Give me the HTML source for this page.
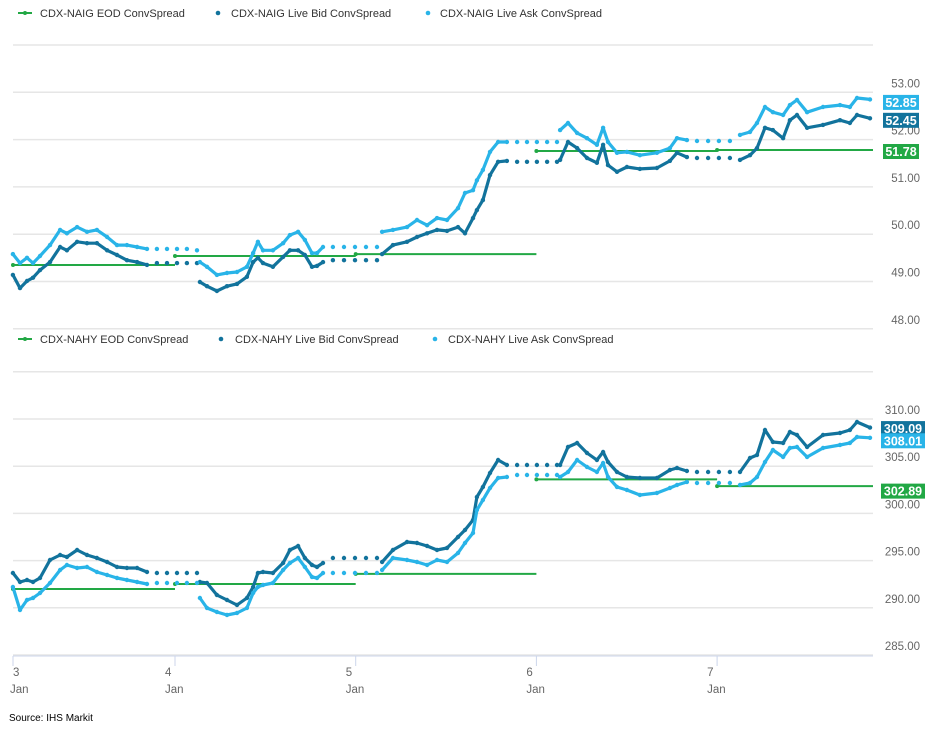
<!DOCTYPE html>
<html><head><meta charset="utf-8"><style>
html,body{margin:0;padding:0;background:#fff;}
svg{display:block;font-family:"Liberation Sans",Arial,sans-serif;}
</style></head><body>
<svg id="chart" width="931" height="730" viewBox="0 0 931 730"></svg>
<script>
// ---- shared time grid (days in January) ----
const times = [3.103,3.142,3.181,3.214,3.253,3.308,3.364,3.402,3.458,3.513,3.568,3.624,3.679,3.734,3.790,3.845,
3.900,3.956,4.011,4.066,4.122,
4.138,4.177,4.232,4.288,4.343,4.398,4.432,4.459,4.487,4.542,4.598,4.636,4.681,4.719,4.758,4.786,4.819,
4.874,4.935,4.996,5.057,5.118,
5.146,5.206,5.284,5.339,5.395,5.450,5.505,5.566,5.605,5.649,5.671,5.704,5.743,5.788,5.837,
5.893,5.948,6.003,6.059,6.114,
6.131,6.175,6.225,6.280,6.335,6.369,6.396,6.446,6.501,6.573,6.667,6.739,6.778,6.833,
6.889,6.950,7.010,7.071,
7.127,7.182,7.221,7.265,7.309,7.365,7.403,7.442,7.498,7.586,7.680,7.735,7.774,7.846];
// session id per point (0 = isolated overnight quote)
const sessions = [1,1,1,1,1,1,1,1,1,1,1,1,1,1,1,1, 0,0,0,0,0,
2,2,2,2,2,2,2,2,2,2,2,2,2,2,2,2,2, 0,0,0,0,0,
3,3,3,3,3,3,3,3,3,3,3,3,3,3,3, 0,0,0,0,0,
4,4,4,4,4,4,4,4,4,4,4,4,4,4, 0,0,0,0,
5,5,5,5,5,5,5,5,5,5,5,5,5,5];
const dayTicks = [3,4,5,6,7];

// ---- CDX-NAIG ----
const igAsk = [49.58,49.39,49.50,49.39,49.54,49.77,50.09,50.02,50.15,50.05,50.09,49.94,49.77,49.77,49.73,49.69,
49.69,49.69,49.69,49.69,49.66,
49.41,49.31,49.14,49.18,49.20,49.31,49.60,49.84,49.66,49.66,49.81,49.98,50.05,49.88,49.60,49.60,49.73,
49.73,49.73,49.73,49.73,49.73,
50.05,50.09,50.15,50.30,50.19,50.34,50.30,50.55,50.87,50.93,51.14,51.36,51.74,51.95,51.95,
51.95,51.95,51.95,51.95,51.95,
52.20,52.35,52.14,52.03,51.89,52.25,51.95,51.72,51.74,51.67,51.72,51.82,52.03,51.99,
51.97,51.97,51.97,51.97,
52.10,52.16,52.35,52.69,52.58,52.52,52.73,52.84,52.58,52.69,52.73,52.69,52.88,52.85];
const igBid = [49.14,48.86,49.01,49.08,49.24,49.41,49.73,49.66,49.84,49.81,49.81,49.66,49.56,49.45,49.41,49.35,
49.39,49.39,49.39,49.39,49.39,
48.99,48.90,48.80,48.90,48.95,49.10,49.41,49.50,49.39,49.31,49.52,49.66,49.66,49.56,49.31,49.33,49.41,
49.45,49.45,49.45,49.45,49.45,
49.58,49.77,49.84,49.94,50.02,50.09,50.07,50.15,50.02,50.34,50.51,50.72,51.25,51.53,51.55,
51.53,51.53,51.53,51.53,51.53,
51.57,51.95,51.82,51.61,51.51,51.89,51.46,51.32,51.42,51.38,51.40,51.55,51.72,51.63,
51.61,51.61,51.61,51.61,
51.57,51.67,51.82,52.25,52.20,52.03,52.41,52.52,52.25,52.31,52.41,52.35,52.52,52.45];
const igEod = [49.35,49.54,49.58,51.76,51.78];
const igTicks = [48,49,50,51,52,53,54];
const igTickLabels = ["48.00","49.00","50.00","51.00","52.00","53.00",""];

// ---- CDX-NAHY ----
const hyBid = [293.69,292.73,292.94,292.73,293.16,295.06,295.59,295.38,296.12,295.59,295.28,294.85,294.32,294.22,294.22,293.79,
293.69,293.69,293.69,293.69,293.69,
292.73,292.63,291.36,290.83,290.30,291.04,292.20,293.69,293.79,293.69,294.75,296.12,296.55,295.28,294.53,294.32,294.75,
295.28,295.28,295.28,295.28,295.28,
294.85,296.12,296.97,296.86,296.55,296.12,296.33,297.50,298.24,299.30,301.74,302.80,304.28,305.66,305.13,
305.13,305.13,305.13,305.13,305.13,
305.13,307.03,307.46,306.40,305.66,306.50,305.44,304.39,303.86,303.75,303.75,304.60,304.81,304.49,
304.39,304.39,304.39,304.39,
304.39,305.87,306.19,308.83,307.56,307.46,308.62,308.31,307.03,308.31,308.52,308.83,309.68,309.09];
const hyAsk = [292.20,289.77,290.83,291.04,291.57,292.63,294.00,294.53,294.22,294.32,293.79,293.47,293.16,292.94,292.73,292.52,
292.63,292.63,292.63,292.63,292.63,
291.04,289.98,289.56,289.24,289.45,289.98,291.57,292.20,292.42,292.63,294.00,294.75,295.28,294.32,293.26,293.16,293.69,
293.69,293.69,293.69,293.69,293.69,
294.00,295.28,295.06,294.85,294.53,295.06,294.85,295.81,296.86,297.92,300.36,301.42,302.69,303.75,303.86,
304.07,304.07,304.07,304.07,304.07,
303.86,304.39,305.66,304.92,304.39,305.34,303.86,302.80,302.48,301.95,302.16,302.69,303.01,303.33,
303.22,303.22,303.22,303.22,
303.01,303.22,303.86,305.44,306.72,305.97,306.93,307.03,305.97,306.93,307.25,307.46,308.09,308.01];
const hyEod = [291.99,292.52,293.60,303.60,302.89];
const hyTicks = [285,290,295,300,305,310,315];
const hyTickLabels = ["285.00","290.00","295.00","300.00","305.00","310.00",""];

const C_ASK = "#29b4e8", C_BID = "#12739c", C_EOD = "#22a845";
const svg = document.getElementById('chart');
const NS = "http://www.w3.org/2000/svg";
function mk(tag, attrs, parent){const e=document.createElementNS(NS,tag);for(const k in attrs)e.setAttribute(k,attrs[k]);(parent||svg).appendChild(e);return e;}

const X0 = 13, X1 = 873;
function xScale(t){return 175 + (t-4)*180.7;}

function drawPanel(cfg){
  const g = mk('g',{});
  
  
  const y = v => cfg.y0 + (v - cfg.v0) * cfg.k;
  cfg.ticks.forEach((v,i)=>{
    const yy = y(v);
    const l = mk('line',{x1:X0,x2:X1,y1:yy,y2:yy,stroke:"#e6e6e6","stroke-width":1.5},g);
    
    
    if(cfg.tickLabels[i]){
      const t = mk('text',{x:920,y:yy-5,"text-anchor":"end","font-size":11.5,fill:"#666"},g);
      t.textContent = cfg.tickLabels[i];
      
      
    }
  });
  cfg.eod.forEach((v,i)=>{
    const xa = Math.max(X0, xScale(dayTicks[i]));
    const xb = i < cfg.eod.length-1 ? xScale(dayTicks[i+1]) : X1;
    const l = mk('line',{x1:xa,x2:xb,y1:y(v),y2:y(v),stroke:C_EOD,"stroke-width":2},g);
    
    
    const c = mk('circle',{cx:xa,cy:y(v),r:2,fill:C_EOD},g);
    
    
  });
  [[cfg.bid,C_BID,'bid-series'],[cfg.ask,C_ASK,'ask-series']].forEach(([vals,col,nm])=>{
    const sg = mk('g',{},g);
    
    
    let seg=[], cur=null;
    const flush=()=>{ if(seg.length>1){ const p=mk('polyline',{points:seg.join(' '),fill:'none',stroke:col,"stroke-width":3.2,"stroke-linejoin":"round","stroke-linecap":"round"},sg);   } seg=[]; };
    vals.forEach((v,i)=>{
      const s = sessions[i];
      const px = xScale(times[i]).toFixed(1), py = y(v).toFixed(1);
      if(s===0 || s!==cur){ flush(); }
      cur = s;
      if(s!==0) seg.push(px+','+py);
      const c = mk('circle',{cx:px,cy:py,r:2.2,fill:col},sg);
      
      
    });
    flush();
  });
  const boxes = [
    [cfg.bid[cfg.bid.length-1], C_BID, 'bid-last-value', cfg.bidOff],
    [cfg.ask[cfg.ask.length-1], C_ASK, 'ask-last-value', cfg.askOff],
    [cfg.eod[cfg.eod.length-1], C_EOD, 'eod-last-value', cfg.eodOff]];
  boxes.forEach(([v,col,nm,off])=>{
    const cy = y(v)+off;
    const bg = mk('g',{},g);
    
    
    mk('rect',{x:cfg.boxX,y:cy-7.5,width:cfg.boxW,height:15,fill:col},bg);
    const t = mk('text',{x:cfg.boxX+cfg.boxW/2,y:cy+4.5,"text-anchor":"middle","font-size":12.5,"font-weight":"bold",fill:"#fff"},bg);
    t.textContent = v.toFixed(2);
  });
}

drawPanel({name:'naig-panel', y0:92.3, v0:53, k:-47.3, ticks:igTicks, tickLabels:igTickLabels,
  bid:igBid, ask:igAsk, eod:igEod, boxX:883, boxW:36, bidOff:2, askOff:3, eodOff:1.5});
drawPanel({name:'nahy-panel', y0:419, v0:310, k:-9.44, ticks:hyTicks, tickLabels:hyTickLabels,
  bid:hyBid, ask:hyAsk, eod:hyEod, boxX:881, boxW:44, bidOff:1, askOff:3, eodOff:5});

const ax = mk('line',{x1:X0,x2:X1,y1:656,y2:656,stroke:"#ccd6eb","stroke-width":1});


dayTicks.forEach(d=>{
  const tx = Math.max(X0, xScale(d));
  const tk = mk('line',{x1:tx,x2:tx,y1:656,y2:666,stroke:"#ccd6eb","stroke-width":1});
  
  
  const lx = Math.max(10, tx-10);
  const t1 = mk('text',{x:lx+(d===3?3:0),y:676,"font-size":11.5,fill:"#666"});
  t1.textContent = String(d);
  
  
  const t2 = mk('text',{x:lx,y:693,"font-size":11.5,fill:"#666"});
  t2.textContent = "Jan";
  
  
});

function legend(y, items, name){
  const lg = mk('g',{});
  
  
  items.forEach(([mx,tx,col,type,label])=>{
    const it = mk('g',{},lg);
    
    
    if(type==='line'){ mk('line',{x1:mx-6,x2:mx+8,y1:y,y2:y,stroke:col,"stroke-width":2},it); mk('circle',{cx:mx+1,cy:y,r:2,fill:col},it); }
    else mk('circle',{cx:mx,cy:y,r:2.3,fill:col},it);
    const t = mk('text',{x:tx,y:y+4,"font-size":11,fill:"#333"},it);
    t.textContent = label;
  });
}
legend(13,[[24,40,C_EOD,'line','CDX-NAIG EOD ConvSpread'],[218,231,C_BID,'dot','CDX-NAIG Live Bid ConvSpread'],[428,440,C_ASK,'dot','CDX-NAIG Live Ask ConvSpread']],'naig-legend');
legend(339,[[24,40,C_EOD,'line','CDX-NAHY EOD ConvSpread'],[221,235,C_BID,'dot','CDX-NAHY Live Bid ConvSpread'],[435,448,C_ASK,'dot','CDX-NAHY Live Ask ConvSpread']],'nahy-legend');

const src = mk('text',{x:9,y:721,"font-size":10,fill:"#000"});
src.textContent = "Source: IHS  Markit";


</script>
</body></html>
